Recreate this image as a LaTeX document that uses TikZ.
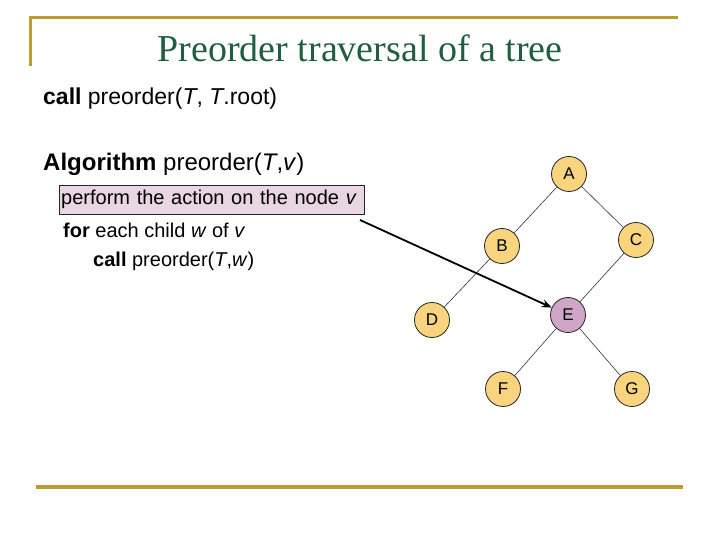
\documentclass[tikz,border=0pt]{standalone}
\usepackage{fontspec}
\setmainfont{Liberation Sans}
\newfontfamily\titlefont{Liberation Serif}
\usetikzlibrary{arrows.meta,positioning}
\definecolor{gold}{HTML}{BC9C2E}
\definecolor{titlegreen}{HTML}{1F5F3F}
\definecolor{nodefill}{HTML}{F9D47E}
\definecolor{visit}{HTML}{D0A6C8}
\definecolor{boxfill}{HTML}{E8D6E2}
\tikzset{
  rule/.style={gold, line width=3pt},
  heading/.style={anchor=base, inner sep=0pt, text=titlegreen, font=\titlefont\fontsize{38}{40}\selectfont},
  code/.style={anchor=base west, inner sep=0pt, font=\fontsize{20}{22}\selectfont},
  action/.style={draw=black!85, fill=boxfill, anchor=west, minimum width=305pt, minimum height=29pt,
                 text width=301pt, inner xsep=2pt, inner ysep=0pt, align=left, font=\fontsize{20}{22}\selectfont},
  treenode/.style={circle, draw=black!85, line width=0.8pt, fill=nodefill, minimum size=35pt, inner sep=0pt,
                   font=\fontsize{17}{17}\selectfont},
  edge/.style={black!80, line width=0.6pt},
  pointer/.style={-{Stealth[length=10pt,width=8pt]}, line width=1.8pt},
}
\begin{document}
\begin{tikzpicture}[x=1pt, y=-1pt]
    \useasboundingbox (0,0) rectangle (720,540);
    % slide rules
    \draw[rule] (30,66) -- (30,18) -- (678,18);
    \draw[rule, line width=4pt] (36,487) -- (683,487);

    % title and pseudocode
    \node[heading] (title) at (360,62) {Preorder traversal of a tree};
    \node[code, font=\fontsize{23}{25}\selectfont] (call) at (43,105) {\textbf{call} preorder(\textit{T}, \textit{T}.root)};
    \node[code, font=\fontsize{24}{26}\selectfont] (algo) at (43,171) {\textbf{Algorithm} preorder(\textit{T},\textit{v})};
    \node[action] (act) at (59,199.5) {perform the action on the node \textit{v}};
    \node[code] (loop) at (63,237) {\textbf{for} each child \textit{w} of \textit{v}};
    \node[code] (rec) at (93,266) {\textbf{call} preorder(\textit{T},\textit{w})};

    % the tree, E is the node being visited
    \foreach \n/\x/\y in {A/569/174, B/502/246, C/636/240, D/432/320, F/503/389, G/632/389}
      \node[treenode] (\n) at (\x,\y) {\n};
    \node[treenode, fill=visit] (E) at (568,315) {E};
    \foreach \p/\c in {A/B, A/C, B/D, C/E, E/F, E/G}
      \draw[edge] (\p) -- (\c);

    % pointer from the action to the visited node
    \coordinate (tail) at (360,220);
    \draw[pointer] (tail) -- (E);
  \end{tikzpicture}
\end{document}
